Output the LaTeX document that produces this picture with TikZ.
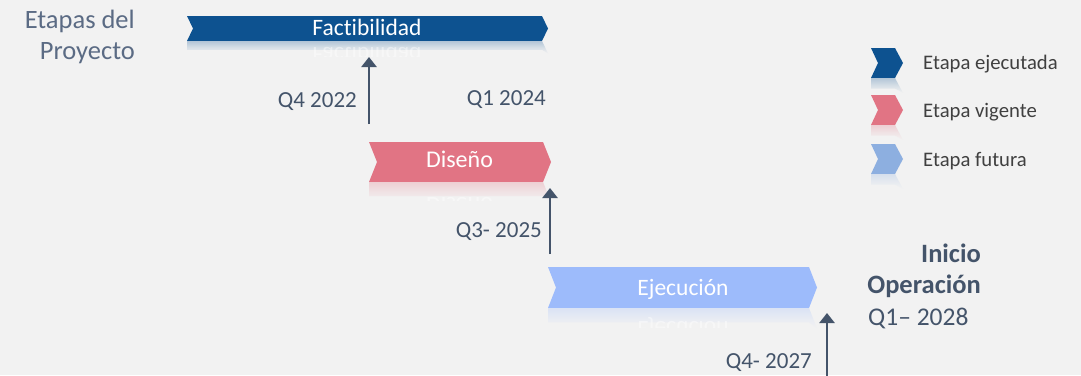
\documentclass[tikz,border=0pt]{standalone}
\usepackage{fontspec}
\setmainfont[Ligatures=NoCommon]{Carlito}
\usetikzlibrary{arrows.meta}
\definecolor{bg}{HTML}{F2F2F2}
\definecolor{ejec}{HTML}{0D5290}
\definecolor{vig}{HTML}{E17484}
\definecolor{fut}{HTML}{9DBBFB}
\definecolor{futleg}{HTML}{8DAFE0}
\definecolor{slate}{HTML}{44546A}
\definecolor{legtxt}{HTML}{404040}
\definecolor{hdr}{HTML}{5B6B84}
\newcommand\chevronshape[7]{% #1 color, #2 x0, #3 top, #4 x1, #5 h, #6 notch, #7 tip
  \fill[#1] (#2,#3) -- (#4,#3) -- ({#4+#7},{#3+#5/2}) -- (#4,{#3+#5}) -- (#2,{#3+#5}) -- ({#2+#6},{#3+#5/2}) -- cycle;
  \shade[top color=#1!28!bg, bottom color=bg, middle color=bg!88!#1] (#2,{#3+#5}) -- (#4,{#3+#5}) -- ({#4+#7},{#3+1.5*#5}) -- (#4,{#3+1.35*#5}) -- (#2,{#3+1.35*#5}) -- cycle;
}
\tikzset{
  stagetxt/.style={inner sep=0pt, text=white, font=\fontsize{23.5}{26}\selectfont},
  reflecttxt/.style={stagetxt, yscale=-1, opacity=0.45},
  qlabel/.style={inner sep=0pt, text=slate, font=\fontsize{23}{26}\selectfont},
  hdrtxt/.style={inner sep=0pt, text=hdr, font=\fontsize{26.5}{30}\selectfont},
  endtxt/.style={inner sep=0pt, text=slate, font=\fontsize{25.5}{28}\selectfont},
  endbold/.style={endtxt, font=\bfseries\fontsize{26.5}{29}\selectfont},
  legendtxt/.style={inner sep=0pt, text=legtxt, font=\fontsize{20.7}{23}\selectfont},
  milestone/.style={draw=slate, line width=2.6pt, -{Triangle[width=15pt,length=10pt]}},
}
\begin{document}
\begin{tikzpicture}[x=1pt,y=-1pt]
\fill[bg] (0,0) rectangle (1081,375);
\useasboundingbox (0,0) rectangle (1081,375);

% header
\node[hdrtxt, anchor=base east] (h1) at (135,28) {Etapas del};
\node[hdrtxt, anchor=base east] (h2) at (135,59) {Proyecto};

% stages
\chevronshape{ejec}{187}{16}{542}{25}{6}{6}
\node[stagetxt, anchor=base] (fact) at (367,35) {Factibilidad};
\begin{scope}
  \clip (187,41) rectangle (548,56);
  \node[reflecttxt, anchor=base] (factr) at (367,47) {Factibilidad};
\end{scope}

\chevronshape{vig}{369}{142}{543}{40}{8}{8}
\node[stagetxt, font=\fontsize{24}{26}\selectfont, anchor=base] (dis) at (459.5,167) {Diseño};
\begin{scope}
  \clip (369,182) rectangle (551,200);
  \node[reflecttxt, font=\fontsize{24}{26}\selectfont, anchor=base] (disr) at (459.5,197) {Diseño};
\end{scope}

\chevronshape{fut}{548}{267}{809}{41}{8}{8}
\node[stagetxt, anchor=base] (eje) at (683,295) {Ejecución};
\begin{scope}
  \clip (548,308) rectangle (817,327);
  \node[reflecttxt, anchor=base] (ejer) at (683,321) {Ejecución};
\end{scope}

% milestones
\coordinate (a1s) at (369,124); \coordinate (a1e) at (369,57);
\coordinate (a2s) at (550,254); \coordinate (a2e) at (550,188);
\coordinate (a3s) at (827,380); \coordinate (a3e) at (827,313);
\draw[milestone] (a1s) -- (a1e);
\draw[milestone] (a2s) -- (a2e);
\draw[milestone] (a3s) -- (a3e);

\node[qlabel, anchor=base east] (q1) at (357,107) {Q4 2022};
\node[qlabel, anchor=base east] (q2) at (546,105) {Q1 2024};
\node[qlabel, anchor=base east] (q3) at (542,237) {Q3- 2025};
\node[qlabel, anchor=base east] (q4) at (812,368) {Q4- 2027};

% end milestone
\node[endbold, anchor=base east] (ini) at (981,262) {Inicio};
\node[endbold, anchor=base east] (ope) at (981,293) {Operación};
\node[endtxt, anchor=base west] (q5) at (868,325) {Q1– 2028};

% legend
\chevronshape{ejec}{871}{48}{895}{30}{7}{8}
\chevronshape{vig}{871}{95}{895}{30}{7}{8}
\chevronshape{futleg}{871}{144}{895}{30}{7}{8}
\node[legendtxt, anchor=base west] (l1) at (923,69) {Etapa ejecutada};
\node[legendtxt, anchor=base west] (l2) at (923,117) {Etapa vigente};
\node[legendtxt, anchor=base west] (l3) at (923,166) {Etapa futura};
\end{tikzpicture}
\end{document}
